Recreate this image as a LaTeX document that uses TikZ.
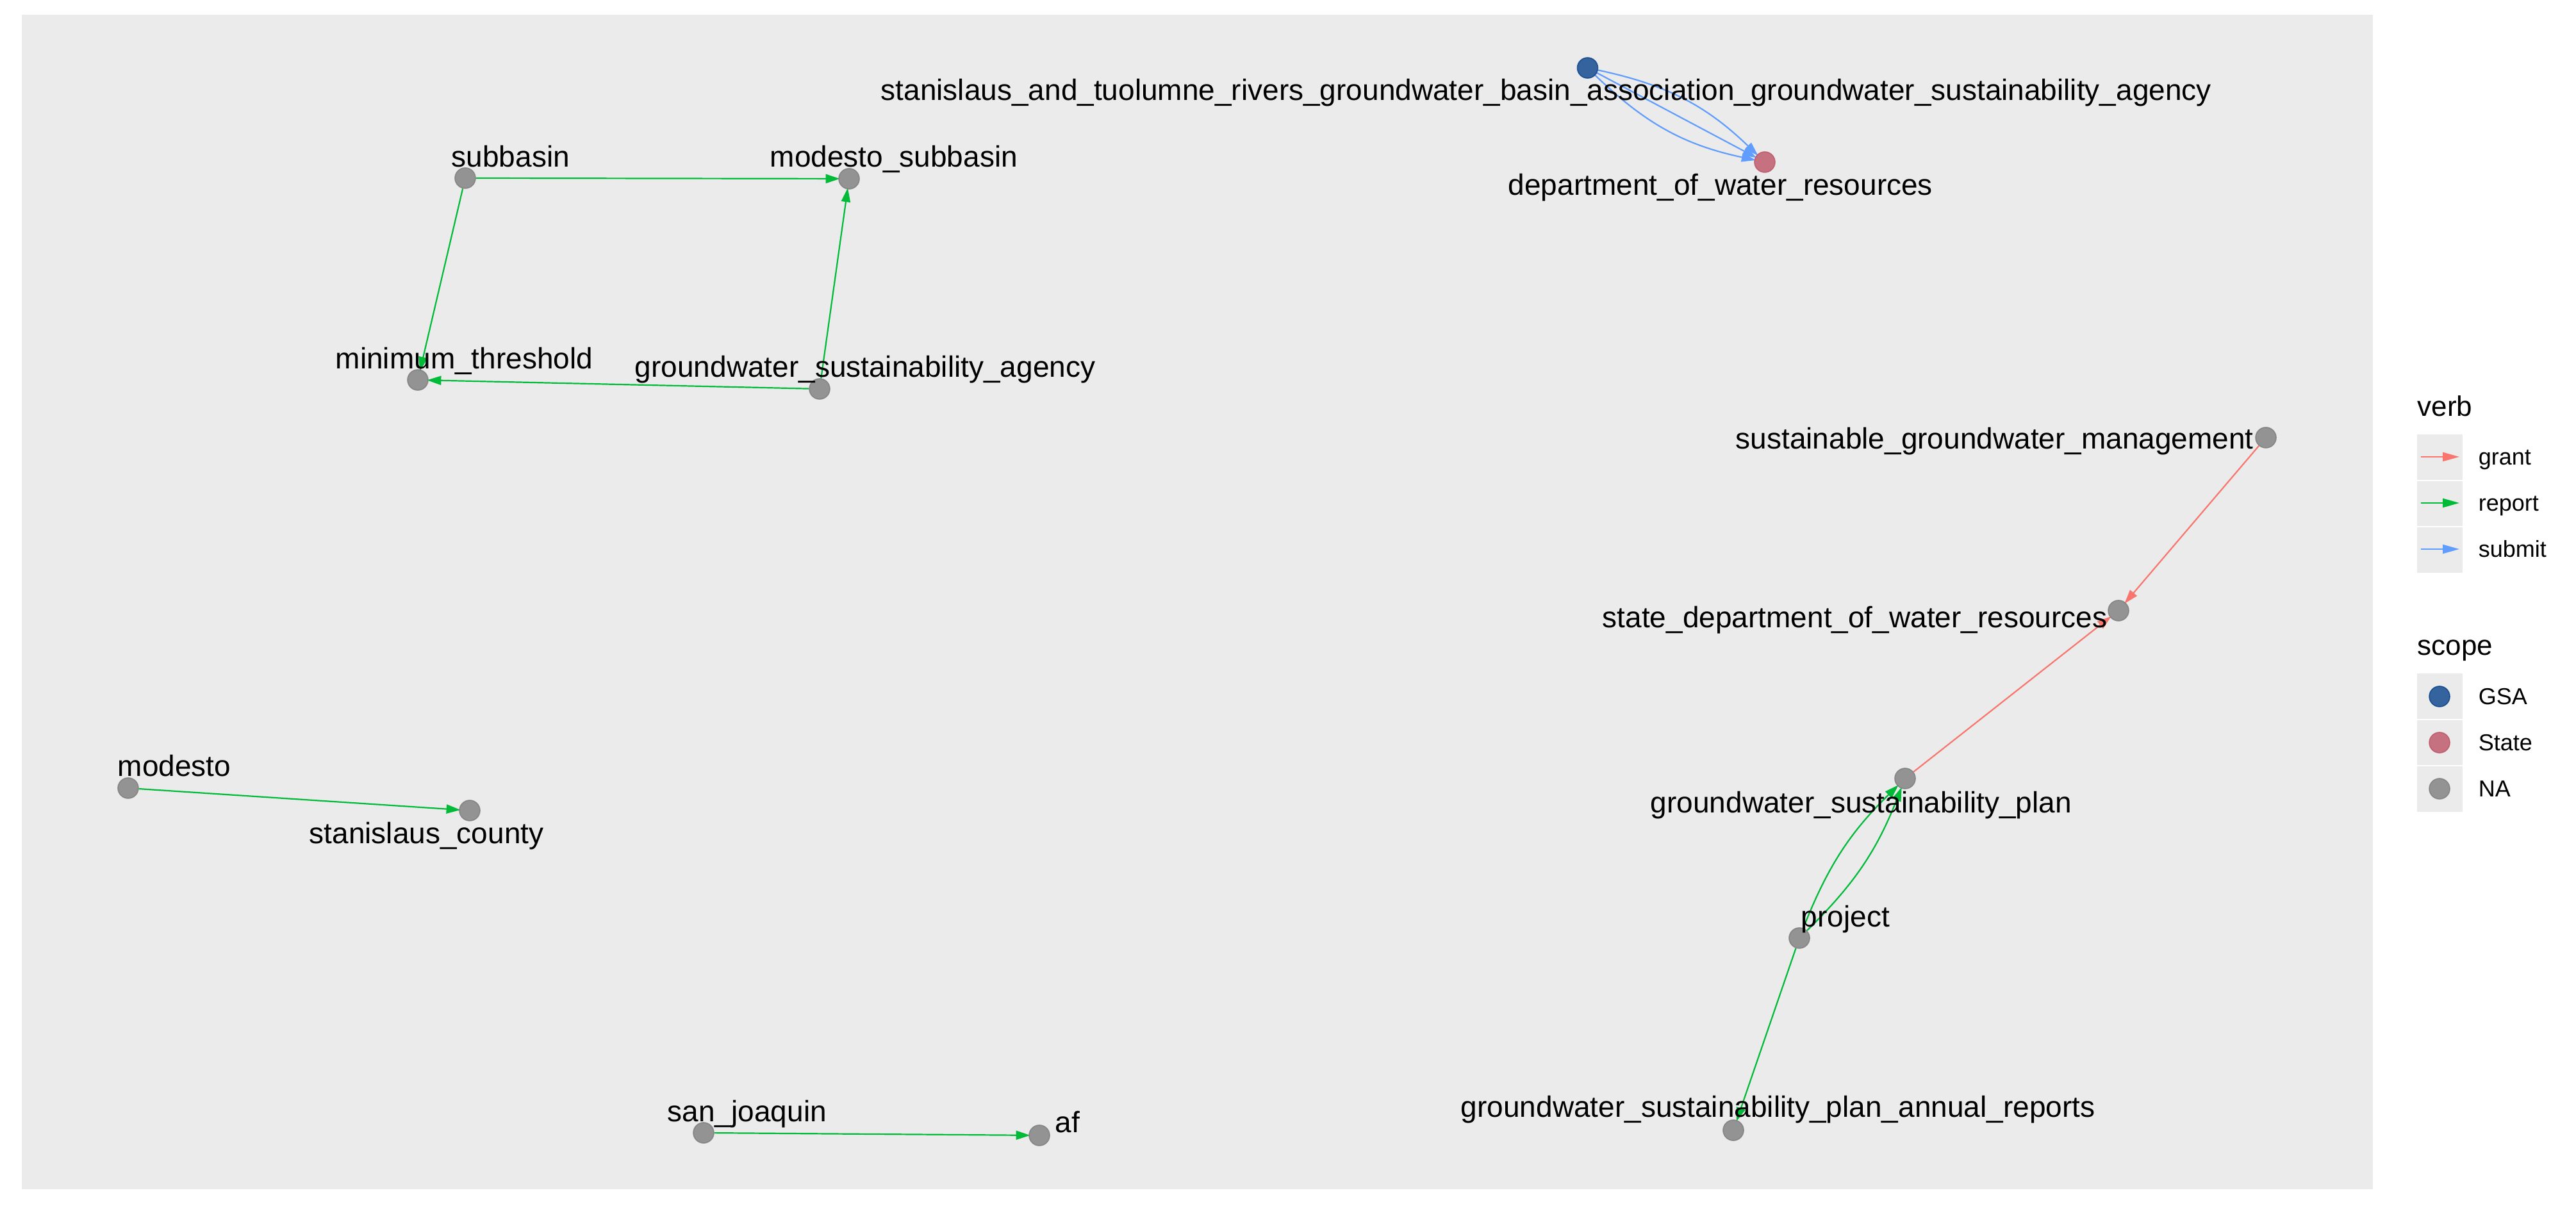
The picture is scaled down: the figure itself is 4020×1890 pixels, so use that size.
\documentclass[tikz,border=0pt]{standalone}
\usepackage{fontspec}
\setmainfont{Liberation Sans}
\usetikzlibrary{arrows.meta}
\pgfdeclarelayer{bg}
\pgfdeclarelayer{edges}
\pgfsetlayers{bg,edges,main}
\definecolor{panelbg}{HTML}{EBEBEB}
\definecolor{cgrant}{HTML}{F8766D}
\definecolor{creport}{HTML}{00BA38}
\definecolor{csubmit}{HTML}{619CFF}
\definecolor{cna}{RGB}{125,125,125}
\definecolor{cgsa}{RGB}{8,66,138}
\definecolor{cstate}{RGB}{189,83,101}
\tikzset{
  vtx/.style={circle, minimum size=8pt, inner sep=0pt, line width=0.4pt, fill opacity=0.8, draw opacity=0.8},
  navtx/.style={vtx, fill=cna, draw=cna},
  gsavtx/.style={vtx, fill=cgsa, draw=cgsa},
  statevtx/.style={vtx, fill=cstate, draw=cstate},
  lbl/.style={anchor=base west, inner sep=0pt, font=\fontsize{11.5pt}{13pt}\selectfont},
  edgebase/.style={line width=0.55pt, -{Triangle[length=5.5pt,width=3.5pt]}, shorten >=-0.6pt},
  grant/.style={edgebase, draw=cgrant},
  report/.style={edgebase, draw=creport},
  submit/.style={edgebase, draw=csubmit},
  keyarrow/.style={line width=0.55pt, -{Triangle[length=6.5pt,width=3.5pt]}},
  legtitle/.style={anchor=base west, inner sep=0pt, font=\fontsize{11pt}{13pt}\selectfont},
  legtext/.style={anchor=base west, inner sep=0pt, font=\fontsize{9pt}{11pt}\selectfont},
}
\begin{document}
\begin{tikzpicture}[x=0.25pt,y=-0.25pt]
\useasboundingbox (0,0) rectangle (4020,1890);
\begin{pgfonlayer}{bg}
\fill[white] (0,0) rectangle (4020,1890);
\fill[panelbg] (34,23) rectangle (3703,1856);
\end{pgfonlayer}

% nodes
\node[gsavtx] (gsaS) at (2477.5,106) {};
\node[statevtx] (dwr) at (2754,253) {};
\node[navtx] (subbasin) at (726,278) {};
\node[navtx] (modsub) at (1325,279) {};
\node[navtx] (minthr) at (652,593) {};
\node[navtx] (gsaAg) at (1279,607) {};
\node[navtx] (modesto) at (200,1230) {};
\node[navtx] (stancty) at (733,1265) {};
\node[navtx] (sanjoa) at (1098,1768) {};
\node[navtx] (af) at (1622,1772) {};
\node[navtx] (gsp) at (2973,1215) {};
\node[navtx] (project) at (2808,1464) {};
\node[navtx] (gspar) at (2705,1764) {};
\node[navtx] (sgm) at (3536,683) {};
\node[navtx] (sdwr) at (3306,953) {};

% edges
\begin{pgfonlayer}{edges}
\draw[submit] (gsaS) to[bend left=16] (dwr);
\draw[submit] (gsaS) -- (dwr);
\draw[submit] (gsaS) to[bend right=16] (dwr);
\draw[report] (subbasin) -- (modsub);
\draw[report] (subbasin) -- (minthr);
\draw[report] (gsaAg) -- (minthr);
\draw[report] (gsaAg) -- (modsub);
\draw[report] (modesto) -- (stancty);
\draw[report] (sanjoa) -- (af);
\draw[report] (project) to[bend left=12] (gsp);
\draw[report] (project) to[bend right=12] (gsp);
\draw[report] (project) -- (gspar);
\draw[grant] (sgm) -- (sdwr);
\draw[grant] (gsp) -- (sdwr);
\end{pgfonlayer}

% labels
\node[lbl] (l-gsaS) at (1374,157) {stanislaus\_and\_tuolumne\_rivers\_groundwater\_basin\_association\_groundwater\_sustainability\_agency};
\node[lbl] (l-dwr) at (2353,305) {department\_of\_water\_resources};
\node[lbl] (l-subbasin) at (704,261) {subbasin};
\node[lbl] (l-modsub) at (1201,261) {modesto\_subbasin};
\node[lbl] (l-minthr) at (523,576) {minimum\_threshold};
\node[lbl] (l-gsaAg) at (990,589) {groundwater\_sustainability\_agency};
\node[lbl] (l-modesto) at (183,1212) {modesto};
\node[lbl] (l-stancty) at (482,1317) {stanislaus\_county};
\node[lbl] (l-sanjoa) at (1041,1751) {san\_joaquin};
\node[lbl] (l-af) at (1646,1768) {af};
\node[lbl] (l-project) at (2810,1447) {project};
\node[lbl] (l-gsp) at (2575,1269) {groundwater\_sustainability\_plan};
\node[lbl] (l-gspar) at (2279,1744) {groundwater\_sustainability\_plan\_annual\_reports};
\node[lbl] (l-sgm) at (2708,701) {sustainable\_groundwater\_management};
\node[lbl] (l-sdwr) at (2500,980) {state\_department\_of\_water\_resources};

% legend: verb
\node[legtitle] (verbtitle) at (3772,650) {verb};
\foreach \y in {678,750,822} {\fill[panelbg] (3772,\y) rectangle (3843,\y+72);}
\draw[white, line width=0.3pt] (3772,750) -- (3843,750) (3772,822) -- (3843,822);
\coordinate (kg0) at (3778,713); \coordinate (kg1) at (3838,713);
\coordinate (kr0) at (3778,785); \coordinate (kr1) at (3838,785);
\coordinate (ks0) at (3778,857); \coordinate (ks1) at (3838,857);
\draw[keyarrow, draw=cgrant] (kg0) -- (kg1);
\draw[keyarrow, draw=creport] (kr0) -- (kr1);
\draw[keyarrow, draw=csubmit] (ks0) -- (ks1);
\node[legtext] (lg-grant) at (3867,726) {grant};
\node[legtext] (lg-report) at (3867,798) {report};
\node[legtext] (lg-submit) at (3867,870) {submit};

% legend: scope
\node[legtitle] (scopetitle) at (3772,1023) {scope};
\foreach \y in {1051,1123,1195} {\fill[panelbg] (3772,\y) rectangle (3843,\y+72);}
\draw[white, line width=0.3pt] (3772,1123) -- (3843,1123) (3772,1195) -- (3843,1195);
\node[gsavtx] (kgsa) at (3807,1087) {};
\node[statevtx] (kstate) at (3807,1159) {};
\node[navtx] (kna) at (3807,1231) {};
\node[legtext] (lg-gsa) at (3867,1100) {GSA};
\node[legtext] (lg-state) at (3867,1172) {State};
\node[legtext] (lg-na) at (3867,1244) {NA};
\end{tikzpicture}
\end{document}
